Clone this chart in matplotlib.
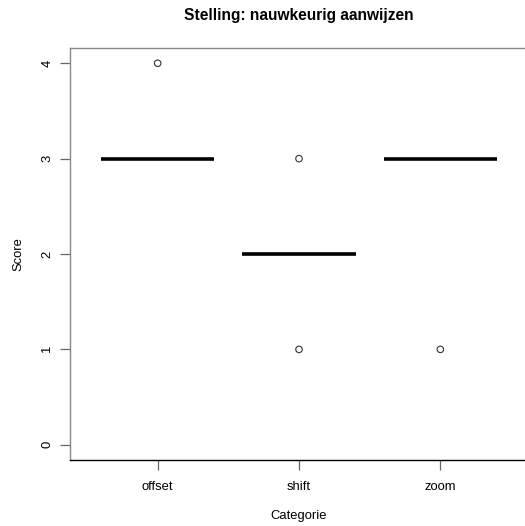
import numpy as np
import matplotlib
matplotlib.use("Agg")
import matplotlib.pyplot as plt

plt.rcParams['font.family'] = ['Liberation Sans', 'DejaVu Sans']

categories = ['offset', 'shift', 'zoom']
medians = [3, 2, 3]
outlier_cat = [0, 1, 1, 2]
outlier_val = [4, 3, 1, 1]
y_ticks = [0, 1, 2, 3, 4]

fig = plt.figure(figsize=(5.25, 5.26), dpi=100)
W, H = 525, 526
# plot region in pixels (R style, right edge falls outside the image)
left, right, top, bottom = 70, 528, 48, 460
ax = fig.add_axes([left / W, 1 - bottom / H, (right - left) / W, (bottom - top) / H])

pos = np.arange(1, len(categories) + 1)
ax.hlines(medians, pos - 0.4, pos + 0.4, colors='black', linewidth=2.6, capstyle='butt')
ax.scatter(pos[outlier_cat], outlier_val, s=22, facecolors='none', edgecolors='#333333', linewidths=0.8)

ax.set_xlim(0.38, 3.62)
ax.set_ylim(-0.16, 4.16)

ax.set_xticks(pos)
ax.set_xticklabels(categories, fontsize=9.4)
ax.set_yticks(y_ticks)
ax.set_yticklabels([str(t) for t in y_ticks], fontsize=9.4, rotation=90, va='center')
ax.tick_params(axis='both', direction='out', length=7, width=0.9, color='#666666')
ax.tick_params(axis='x', pad=8)
ax.tick_params(axis='y', pad=5)

for s in ['left', 'top']:
    ax.spines[s].set_color('#888888')
    ax.spines[s].set_linewidth(1.0)
ax.spines['bottom'].set_color('black')
ax.spines['bottom'].set_linewidth(1.0)
ax.spines['right'].set_visible(False)

ax.set_title('Stelling: nauwkeurig aanwijzen', fontsize=11.2, fontweight='bold', pad=20)
ax.set_xlabel('Categorie', fontsize=9.4, labelpad=12)
ax.set_ylabel('Score', fontsize=9.4, labelpad=12)

fig.savefig('out.png', dpi=100)
